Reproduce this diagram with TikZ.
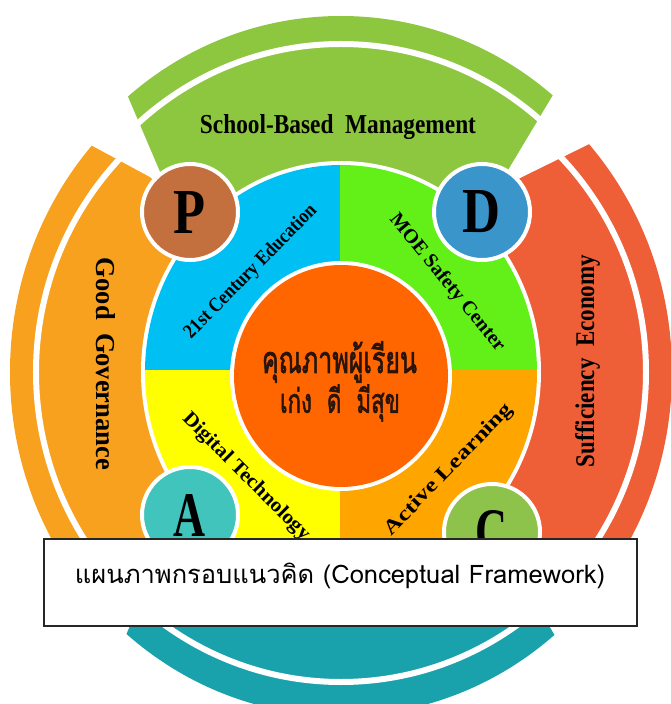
\documentclass[tikz,border=0pt]{standalone}
\usepackage{fontspec}
\usepackage{graphicx}
\setmainfont{Liberation Serif}
\newfontfamily\thaifont[Script=Thai]{Loma}
\newfontfamily\thaiheavy[Script=Thai, FakeBold=2]{Loma}
\definecolor{cgreen}{RGB}{141,198,63}
\definecolor{corange}{RGB}{248,161,30}
\definecolor{cred}{RGB}{238,94,55}
\definecolor{cteal}{RGB}{26,162,172}
\definecolor{qblue}{RGB}{0,191,243}
\definecolor{qlime}{RGB}{98,240,24}
\definecolor{qyellow}{RGB}{255,255,0}
\definecolor{qorange}{RGB}{255,165,0}
\definecolor{ccenter}{RGB}{255,102,0}
\definecolor{pcol}{RGB}{196,112,62}
\definecolor{dcol}{RGB}{58,149,203}
\definecolor{acol}{RGB}{64,196,188}
\definecolor{ccol}{RGB}{141,194,75}
\definecolor{ctext}{RGB}{40,20,10}
\begin{document}
\begin{tikzpicture}[x=1pt,y=1pt,
  lbl/.style={font=\bfseries, text=black, inner sep=0pt},
  badge/.style={circle, draw=white, line width=4pt, minimum size=96pt, inner sep=0pt, font=\bfseries, text=black},
  gapline/.style={white, line width=6pt}]
\useasboundingbox (-341,-332) rectangle (329,372);
% outer sectors
\begin{scope}
  \clip (0,0) -- (48.6:600) -- (133.3:600) -- cycle;
  \fill[cgreen] (0,20) ellipse [x radius=328, y radius=336];
  \draw[gapline] (0,20) ellipse [x radius=303, y radius=308];
\end{scope}
\begin{scope}
  \clip (0,0) -- (133.3:600) -- (223.4:600) -- cycle;
  \fill[corange] (0,0) ellipse [x radius=331, y radius=344];
  \draw[gapline] (0,0) ellipse [x radius=305, y radius=310];
\end{scope}
\begin{scope}
  \clip (0,0) -- (223.4:600) -- (313.3:600) -- cycle;
  \fill[cteal] (0,0) ellipse [x radius=331, y radius=344];
  \draw[gapline] (0,0) ellipse [x radius=305, y radius=310];
\end{scope}
\begin{scope}
  \clip (0,0) -- (-46.7:600) -- (48.6:600) -- cycle;
  \fill[cred] (0,0) ellipse [x radius=331, y radius=344];
  \draw[gapline] (0,0) ellipse [x radius=305, y radius=310];
\end{scope}
% white wedges between sectors
\fill[white] (-151,160) -- (-181,200) -- (-279,430) -- (-411,314) -- (-191,195) -- cycle;
\fill[white] (141,160) -- (169,205) -- (297,419) -- (403,304) -- (179,194) -- cycle;
\fill[white] (-151,-143) -- (-191,-178) -- (-411,-297) -- (-279,-413) -- (-181,-183) -- cycle;
\fill[white] (151,-160) -- (189,-194) -- (413,-304) -- (307,-419) -- (179,-205) -- cycle;
% middle ring
\fill[white] (0,0) ellipse [x radius=200, y radius=211];
\begin{scope}
  \clip (0,0) ellipse [x radius=196, y radius=207];
  \fill[qblue] (-1,2) rectangle (-250,250);
  \fill[qlime] (-1,2) rectangle (250,250);
  \fill[qyellow] (-1,2) rectangle (-250,-250);
  \fill[qorange] (-1,2) rectangle (250,-250);
\end{scope}
% centre
\fill[white] (0,-4) ellipse [x radius=111, y radius=115];
\fill[ccenter] (0,-4) ellipse [x radius=107, y radius=111];
% badges
\node[badge, fill=pcol] (P) at (-151,160) {\resizebox{32pt}{42pt}{P}};
\node[badge, fill=dcol] (D) at (141,160) {\resizebox{38pt}{42pt}{D}};
\node[badge, fill=acol] (A) at (-151,-143) {\resizebox{32pt}{42pt}{A}};
\node[badge, fill=ccol] (C) at (151,-160) {\resizebox{32pt}{42pt}{C}};
% labels
\node[lbl, anchor=base] (sbm) at (-3,238) {\resizebox{276pt}{19pt}{School-Based\ \ Management}};
\node[lbl, rotate=-90, anchor=base] (gg) at (-244,8) {\resizebox{212pt}{19pt}{Good\ \ Governance}};
\node[lbl, rotate=90, anchor=base] (se) at (253,11) {\resizebox{212pt}{19pt}{Sufficiency\ \ Economy}};
\node[lbl, rotate=45.4] (e21) at (-90,100) {\resizebox{180pt}{14pt}{21st Century Education}};
\node[lbl, rotate=-51] (moe) at (106,89) {\resizebox{172pt}{14pt}{MOE Safety Center}};
\node[lbl, rotate=-45] (dig) at (-95,-105) {\resizebox{172pt}{14pt}{Digital Technology}};
\node[lbl, rotate=46] (act) at (108,-98) {\resizebox{175pt}{14pt}{Active Learning}};
\node[inner sep=0pt, text=ctext] (q1) at (-1.5,10) {\thaiheavy\scalebox{1}[1.5]{\resizebox{155pt}{!}{คุณภาพผู้เรียน}}};
\node[inner sep=0pt, text=ctext] (q2) at (-1,-31) {\thaiheavy\scalebox{1}[1.5]{\resizebox{120pt}{!}{เก่ง\ \ ดี\ \ มีสุข}}};
% caption box
\node[draw=black!85, line width=1.3pt, fill=white, minimum width=593pt, minimum height=87pt, inner sep=0pt] (box) at (-0.5,-210.5) {};
\node[inner sep=0pt] (cap) at (-1,-204) {\thaifont\resizebox{530pt}{!}{แผนภาพกรอบแนวคิด (Conceptual Framework)}};
\end{tikzpicture}
\end{document}
